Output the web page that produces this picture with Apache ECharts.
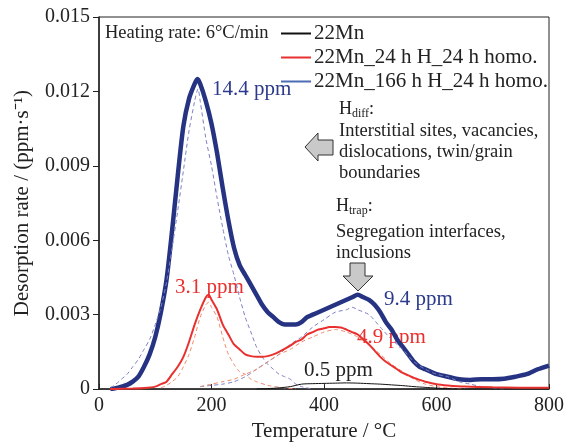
<!DOCTYPE html>
<html>
<head>
<meta charset="utf-8">
<script src="https://cdn.jsdelivr.net/npm/echarts@6/dist/echarts.min.js"></script>
<style>
  html, body { margin: 0; padding: 0; background: #fff; }
  #chart { width: 567px; height: 447px; }
</style>
</head>
<body>
<div id="chart"></div>
<script>
// temperatures (°C) and desorption rates (ppm/s)
var tNavy = [20,30,40,50,60,70,80,90,100,110,120,130,140,150,160,170,175,180,190,200,210,220,230,240,250,260,270,280,290,300,310,320,330,340,350,360,370,380,390,400,410,420,430,440,450,460,470,480,490,500,510,520,530,540,550,560,570,580,590,600,620,640,660,680,700,720,740,760,780,800];
var navy  = [0,0.00004,0.0001,0.00017,0.0003,0.0005,0.0009,0.0014,0.0021,0.0031,0.0044,0.0064,0.0086,0.0106,0.0117,0.0123,0.0125,0.0123,0.0116,0.0107,0.0095,0.0081,0.0068,0.0057,0.0050,0.0046,0.0042,0.0038,0.0034,0.0031,0.0029,0.0027,0.0026,0.0026,0.0026,0.0027,0.0029,0.0030,0.0031,0.0032,0.0033,0.0034,0.0035,0.0036,0.0037,0.0038,0.0037,0.0036,0.0034,0.0031,0.0027,0.0024,0.0020,0.0017,0.0014,0.0011,0.0009,0.0008,0.0007,0.0006,0.0005,0.0004,0.00037,0.0004,0.0004,0.00042,0.0005,0.0006,0.0008,0.00095];

var tRed = [20,60,80,100,110,120,130,140,150,160,170,180,190,195,200,210,220,230,240,250,260,270,280,290,300,310,320,330,340,350,360,370,380,390,400,410,420,430,440,450,460,470,480,490,500,510,520,530,540,550,560,570,580,600,620,650,700,800];
var red  = [0,0.00002,0.00004,0.0001,0.0002,0.0003,0.0006,0.0009,0.0013,0.0019,0.0026,0.0032,0.0037,0.0038,0.0036,0.0032,0.0026,0.0022,0.0018,0.0016,0.0014,0.00133,0.0013,0.0013,0.00133,0.0014,0.0015,0.00162,0.00175,0.0019,0.0020,0.0022,0.0023,0.0024,0.00245,0.0025,0.0025,0.00248,0.0024,0.0023,0.0022,0.0020,0.0018,0.00155,0.0013,0.0011,0.00095,0.0008,0.00065,0.00055,0.00045,0.00037,0.0003,0.0002,0.00015,0.0001,0.00007,0.00005];

var tBlack = [280,300,320,340,360,380,400,420,440,460,480,500,520,540,560,580,600,620,650,800];
var black  = [0,0.00002,0.00005,0.0001,0.0002,0.00022,0.00023,0.00024,0.00025,0.00024,0.00022,0.0002,0.00017,0.00014,0.0001,0.00007,0.00004,0.00002,0,0];

// fitted peaks (dashed)
var tNavyFit1 = [20,30,40,50,60,70,80,90,100,110,120,130,140,150,160,170,176,180,190,200,210,220,230,240,250,260,270,280,290,300,310,320,330,340,350,360,380];
var navyFit1  = [0.00005,0.0002,0.0004,0.0006,0.0009,0.0012,0.0016,0.0020,0.0026,0.0033,0.0043,0.0057,0.0072,0.0088,0.0104,0.0116,0.0121,0.0116,0.0101,0.0090,0.0077,0.0065,0.0054,0.0046,0.0037,0.0029,0.0023,0.0017,0.0013,0.0010,0.0008,0.0006,0.0005,0.0004,0.0002,0.0001,0];
var tNavyFit2 = [180,200,220,240,260,280,300,320,340,360,380,400,420,440,450,460,480,500,520,540,560,580,600,620,640,660,680,700,720];
var navyFit2  = [0.0001,0.00015,0.0002,0.0003,0.0005,0.0008,0.0011,0.0014,0.0018,0.0021,0.0025,0.0028,0.0031,0.0032,0.0033,0.0032,0.0030,0.0025,0.0020,0.0016,0.0011,0.0008,0.0006,0.0005,0.0003,0.0002,0.0001,0.00005,0];
var tRedFit1 = [110,120,130,140,150,160,170,180,190,195,200,210,220,230,240,250,260,270,280,300,320,350];
var redFit1  = [0.00005,0.00015,0.0003,0.0005,0.0009,0.0014,0.0021,0.0029,0.0034,0.0035,0.0033,0.0029,0.0021,0.0014,0.0010,0.0007,0.0006,0.0004,0.0003,0.00015,0.00008,0];
var tRedFit2 = [180,200,220,240,260,280,300,320,340,360,380,400,420,440,460,480,500,520,540,560,580,600,620,650];
var redFit2  = [0.0001,0.0002,0.0003,0.0004,0.0006,0.0008,0.0011,0.0014,0.0016,0.0019,0.0021,0.0023,0.0024,0.0023,0.0021,0.0018,0.0014,0.0010,0.0007,0.0004,0.0002,0.0001,0.00005,0];

var seriesNames = ['22Mn', '22Mn_24 h H_24 h homo.', '22Mn_166 h H_24 h homo.'];

function pairs(xs, ys) {
  return xs.map(function (x, i) { return [x, ys[i]]; });
}

var font = 'Liberation Serif';
var chart = echarts.init(document.getElementById('chart'));

function dashed(name, data, color) {
  return {
    name: name, type: 'line', data: data, showSymbol: false, smooth: 0.25,
    lineStyle: { color: color, width: 1, type: [4, 3] }, z: 3, silent: true
  };
}

chart.setOption({
  animation: false,
  backgroundColor: '#fff',
  textStyle: { fontFamily: font },
  grid: { left: 99, right: 14, top: 17, bottom: 52, show: true, borderColor: '#222', borderWidth: 1 },
  legend: {
    data: [
      { name: seriesNames[0], itemStyle: { color: '#111' } },
      { name: seriesNames[1], itemStyle: { color: '#e8312e' } },
      { name: seriesNames[2], itemStyle: { color: '#4a6db5' } }
    ],
    orient: 'vertical', left: 276, top: 18, itemGap: 3,
    icon: 'rect', itemWidth: 30, itemHeight: 2,
    textStyle: { fontFamily: font, fontSize: 21, color: '#222', padding: [0, 0, 0, -2] }
  },
  xAxis: {
    type: 'value', min: 0, max: 800, interval: 200,
    name: 'Temperature / °C', nameLocation: 'middle', nameGap: 28,
    nameTextStyle: { fontFamily: font, fontSize: 21, color: '#222' },
    axisLine: { lineStyle: { color: '#222', width: 1.5 } },
    axisTick: { inside: true, length: 5, lineStyle: { color: '#222' } },
    axisLabel: { fontFamily: font, fontSize: 20, color: '#222', margin: 7 },
    splitLine: { show: false }
  },
  yAxis: {
    type: 'value', min: 0, max: 0.015, interval: 0.003,
    name: 'Desorption rate / (ppm·s⁻¹)', nameLocation: 'middle', nameGap: 66,
    nameTextStyle: { fontFamily: font, fontSize: 21, color: '#222' },
    axisLine: { show: true, lineStyle: { color: '#222', width: 1.5 } },
    axisTick: { show: true, length: 6, lineStyle: { color: '#222' } },
    axisLabel: {
      fontFamily: font, fontSize: 20, color: '#222', margin: 9,
      formatter: function (v) { return v === 0 ? '0' : v.toFixed(3); }
    },
    splitLine: { show: false }
  },
  series: [
    dashed('fitNavy1', pairs(tNavyFit1, navyFit1), '#7d80c2'),
    dashed('fitNavy2', pairs(tNavyFit2, navyFit2), '#7d80c2'),
    dashed('fitRed1', pairs(tRedFit1, redFit1), '#f08a6c'),
    dashed('fitRed2', pairs(tRedFit2, redFit2), '#f08a6c'),
    { name: seriesNames[0], type: 'line', data: pairs(tBlack, black), showSymbol: false, smooth: 0.25,
      lineStyle: { color: '#111', width: 1 }, itemStyle: { color: '#111' }, z: 4 },
    { name: seriesNames[1], type: 'line', data: pairs(tRed, red), showSymbol: false, smooth: 0.25,
      lineStyle: { color: '#e8312e', width: 2 }, itemStyle: { color: '#e8312e' }, z: 4 },
    { name: seriesNames[2], type: 'line', data: pairs(tNavy, navy), showSymbol: false, smooth: 0.25,
      lineStyle: { color: '#253382', width: 4.5 }, itemStyle: { color: '#4a6db5' }, z: 2 }
  ],
  graphic: [
    { type: 'text', left: 105, top: 24, style: { text: 'Heating rate: 6°C/min', font: '18.5px ' + font, fill: '#222' } },
    { type: 'text', left: 212, top: 79, style: { text: '14.4 ppm', font: '21px ' + font, fill: '#2b3a8c' } },
    { type: 'text', left: 175, top: 277, style: { text: '3.1 ppm', font: '21px ' + font, fill: '#e8312e' } },
    { type: 'text', left: 384, top: 289, style: { text: '9.4 ppm', font: '21px ' + font, fill: '#2b3a8c' } },
    { type: 'text', left: 357, top: 327, style: { text: '4.9 ppm', font: '21px ' + font, fill: '#e8312e' } },
    { type: 'text', left: 304, top: 360, style: { text: '0.5 ppm', font: '21px ' + font, fill: '#222' } },
    { type: 'text', left: 339, top: 100, style: {
        text: '{h|H}{s|diff}{h|:}', font: '18px ' + font, fill: '#222',
        rich: { h: { fontFamily: font, fontSize: 18, fill: '#222' }, s: { fontFamily: font, fontSize: 12, fill: '#222', padding: [9, 0, 0, 0] } } } },
    { type: 'text', left: 339, top: 121, style: {
        text: 'Interstitial sites, vacancies,\ndislocations, twin/grain\nboundaries', font: '18.5px ' + font, fill: '#222', lineHeight: 21 } },
    { type: 'text', left: 336, top: 197, style: {
        text: '{h|H}{s|trap}{h|:}', font: '18px ' + font, fill: '#222',
        rich: { h: { fontFamily: font, fontSize: 18, fill: '#222' }, s: { fontFamily: font, fontSize: 12, fill: '#222', padding: [9, 0, 0, 0] } } } },
    { type: 'text', left: 336, top: 221, style: {
        text: 'Segregation interfaces,\ninclusions', font: '18.5px ' + font, fill: '#222', lineHeight: 21.5 } },
    { type: 'polygon', shape: { points: [[305, 147], [318, 133], [318, 140], [333, 140], [333, 155], [318, 155], [318, 161]] },
      style: { fill: '#c9c9c9', stroke: '#333', lineWidth: 1 } },
    { type: 'polygon', shape: { points: [[350, 263], [365, 263], [365, 276], [373, 276], [358, 291], [343, 276], [350, 276]] },
      style: { fill: '#c9c9c9', stroke: '#333', lineWidth: 1 } }
  ]
});
</script>
</body>
</html>
